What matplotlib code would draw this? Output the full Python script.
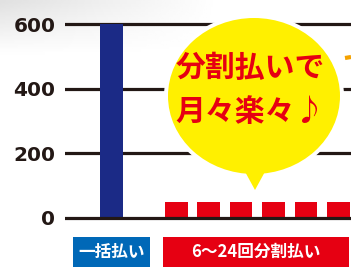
import numpy as np
import matplotlib
matplotlib.use("Agg")
import matplotlib.pyplot as plt
from matplotlib.patches import Ellipse, Polygon, Rectangle

plt.rcParams['font.family'] = ['Noto Sans CJK JP', 'DejaVu Sans']

# datos
pos_barras = [0, 2, 3, 4, 5, 6, 7]
valores = [600, 50, 50, 50, 50, 50, 50]
colores = ['#1b2a86'] + ['#e60012'] * 6
ticks_y = [0, 200, 400, 600]
etiqueta_azul = "一括払い"
etiqueta_roja = "6～24回分割払い"
globo_lineas = ["分割払いで", "月々楽々♪"]

W, H = 351, 267
fig = plt.figure(figsize=(W / 100, H / 100), dpi=100)
fig.patch.set_facecolor('white')

# sombra gris arriba a la izquierda
fondo = fig.add_axes([0, 0, 1, 1], zorder=-5)
gx = np.linspace(0, 1, 200)
gy = np.linspace(0, 1, 100)
GX, GY = np.meshgrid(gx, gy)
grad = np.clip(1 - GY * 5, 0, 1) * np.clip(1 - GX * 1.6, 0, 1) * 0.12
fondo.imshow(1 - grad, cmap='gray', vmin=0, vmax=1, extent=[0, W, H, 0], aspect='auto')
fondo.set_xlim(0, W)
fondo.set_ylim(H, 0)
fondo.axis('off')

# ejes del grafico (pixeles medidos en la referencia)
y0_px, y600_px = 218, 24
upp = (y0_px - y600_px) / 600.0
ymin, ymax = -10, 620
bot_px = y0_px + (0 - ymin) * upp
top_px = y600_px - (ymax - 600) * upp
left_px = 65
ax = fig.add_axes([left_px / W, (H - bot_px) / H, (W - left_px) / W, (bot_px - top_px) / H])
ax.set_facecolor('none')

for yv in ticks_y:
    ax.axhline(yv, color='#231815', lw=2.3, zorder=1 if yv else 3)
ax.bar(pos_barras, valores, width=0.7, color=colores, zorder=2)

xpx = 32.4
x0_center = 111.5
ax.set_xlim((left_px - x0_center) / xpx, (W - x0_center) / xpx)
ax.set_ylim(ymin, ymax)
ax.set_yticks(ticks_y)
ax.set_yticklabels([str(t) for t in ticks_y], family='DejaVu Sans', fontweight='bold',
                   fontsize=14.5, color='#231815')
ax.tick_params(axis='y', length=0, pad=7)
ax.set_xticks([])
for s in ax.spines.values():
    s.set_visible(False)

# capa en pixeles para el globo y las etiquetas
capa = fig.add_axes([0, 0, 1, 1], zorder=5)
capa.set_xlim(0, W)
capa.set_ylim(H, 0)
capa.axis('off')

cx, cy, ew, eh = 254, 96, 172, 156
cola = [(243, 168), (267, 168), (255, 190)]
capa.add_patch(Ellipse((cx, cy), ew + 8, eh + 8, color='white', lw=0))
capa.add_patch(Polygon([(239, 165), (271, 165), (255, 194)], color='white', lw=0))
capa.add_patch(Ellipse((cx, cy), ew, eh, color='#fff000', lw=0))
capa.add_patch(Polygon(cola, color='#fff000', lw=0))
capa.text(cx - 4, 68, globo_lineas[0], ha='center', va='center', fontsize=21.5,
          fontweight='bold', color='#e60012')
capa.text(cx - 4, 112, globo_lineas[1], ha='center', va='center', fontsize=21.5,
          fontweight='bold', color='#e60012')

# trazo naranja cortado en el borde derecho
capa.plot([345, 351], [58, 57], color='#f5a200', lw=3, solid_capstyle='butt')

# etiquetas de categoria
capa.add_patch(Rectangle((73, 237), 77, 30, color='#0068b7', lw=0))
capa.text(111.5, 252, etiqueta_azul, ha='center', va='center', fontsize=12,
          fontweight='bold', color='white')
capa.add_patch(Rectangle((163, 237), 186, 30, color='#e60012', lw=0))
capa.text(256, 252, etiqueta_roja, ha='center', va='center', fontsize=12,
          fontweight='bold', color='white')

fig.savefig('out.png', dpi=100)
